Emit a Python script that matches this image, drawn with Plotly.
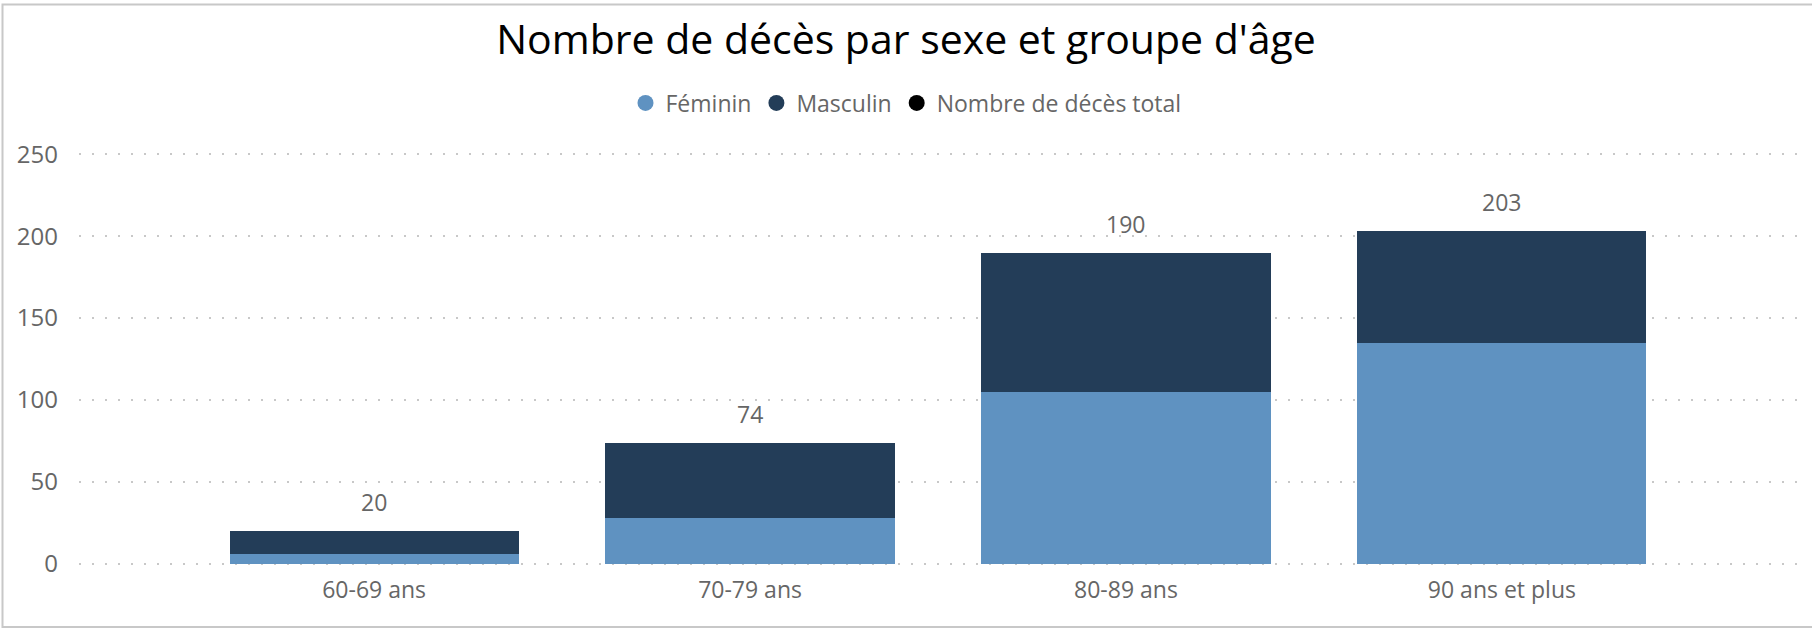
import plotly.graph_objects as go

# ---- data ----
categories = ["60-69 ans", "70-79 ans", "80-89 ans", "90 ans et plus"]
feminin = [6, 28, 105, 135]
masculin = [14, 46, 85, 68]
total = [20, 74, 190, 203]
y_ticks = [0, 50, 100, 150, 200, 250]

# ---- style ----
W, H = 1812, 628
Y0_PX, Y250_PX = 564, 154          # pixel rows of value 0 and 250
PAD = 0.8                          # small range padding so edge gridlines show
scale = (Y0_PX - Y250_PX) / 250.0
ML, MR = 79, 15
MT = round(Y250_PX - PAD * scale)
MB = round(H - Y0_PX - PAD * scale)
FONT = "Open Sans, Noto Sans, sans-serif"
C_FEM = "#5F92C1"
C_MASC = "#233D58"
C_TXT = "#666666"

fig = go.Figure()
fig.add_trace(go.Bar(x=categories, y=feminin, name="Féminin",
                     marker=dict(color=C_FEM, line=dict(width=0)), showlegend=False))
fig.add_trace(go.Bar(x=categories, y=masculin, name="Masculin",
                     marker=dict(color=C_MASC, line=dict(width=0)), showlegend=False))

# legend entries with circular symbols
for nm, col in [("Féminin", C_FEM), ("Masculin", C_MASC), ("Nombre de décès total", "#000000")]:
    fig.add_trace(go.Scatter(x=[None], y=[None], mode="markers", name=nm,
                             marker=dict(symbol="circle", size=20, color=col)))

# total labels
for c, t in zip(categories, total):
    fig.add_annotation(x=c, y=t, text=str(t), showarrow=False, yshift=29,
                       yanchor="middle", font=dict(family=FONT, size=23, color=C_TXT))

pw = W - ML - MR
ph = H - MT - MB
# outer border (pixel positions converted to paper coords)
def px_x(p):
    return (p - ML) / pw
def px_y(p):
    return (H - MB - p) / ph
fig.add_shape(type="rect", xref="paper", yref="paper",
              x0=px_x(2.5), x1=px_x(W + 5), y0=px_y(627), y1=px_y(4.5),
              line=dict(color="#c8c8c8", width=2), fillcolor="rgba(0,0,0,0)", layer="below")

fig.update_layout(
    width=W, height=H,
    margin=dict(l=ML, r=MR, t=MT, b=MB, pad=0),
    paper_bgcolor="white", plot_bgcolor="white",
    barmode="stack", bargap=0.231,
    font=dict(family=FONT, size=23, color=C_TXT),
    title=dict(text="Nombre de décès par sexe et groupe d'âge",
               x=0.5, xref="container", xanchor="center",
               y=1 - 40 / H, yref="container", yanchor="middle",
               font=dict(family=FONT, size=41, color="#000000")),
    legend=dict(orientation="h", x=0.5, xref="container", xanchor="center",
                y=1 - 103 / H, yref="container", yanchor="middle",
                font=dict(family=FONT, size=23, color=C_TXT), traceorder="normal",
                itemwidth=30, tracegroupgap=0, bgcolor="rgba(0,0,0,0)"),
    xaxis=dict(type="category", range=[-0.785, 3.785], showgrid=False,
               showline=False, zeroline=False, ticks="", ticklabelstandoff=9,
               tickfont=dict(family=FONT, size=23, color=C_TXT)),
    yaxis=dict(range=[-PAD, 250 + PAD], tickvals=y_ticks, showgrid=True,
               gridcolor="#c8c8c8", gridwidth=2, griddash="2px,11px",
               zeroline=False, showline=False, ticks="", ticklabelstandoff=20,
               tickfont=dict(family=FONT, size=24, color=C_TXT)),
)

fig.write_html("out.html", config={"displayModeBar": False},
               post_script="document.body.style.margin='0px';")
